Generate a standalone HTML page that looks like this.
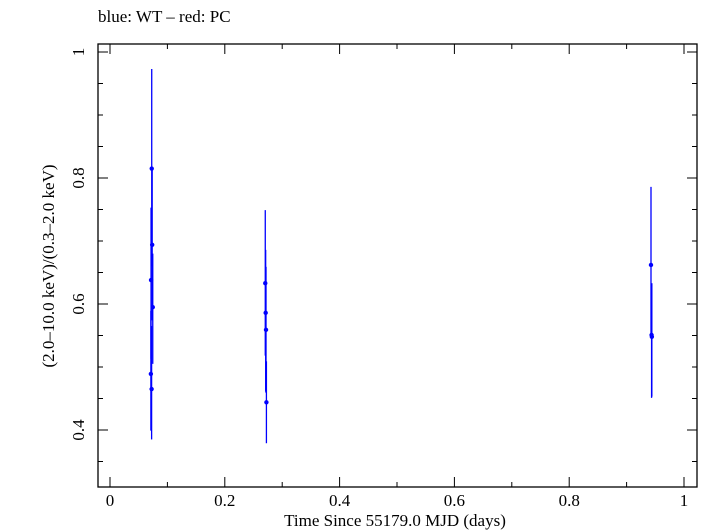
<!DOCTYPE html>
<html><head><meta charset="utf-8"><style>
body{margin:0;background:#fff;}
svg{display:block;font-family:"Liberation Serif",serif;}
</style></head><body>
<svg id="chart" width="705" height="532">
<text x="98" y="22" font-size="17">blue: WT – red: PC</text>
<rect x="98" y="44" width="599" height="443" fill="none" stroke="#000" stroke-width="1.3"/>
<g id="ticks"></g>
<g id="marks"></g>
<text x="395" y="526" font-size="17" text-anchor="middle">Time Since 55179.0 MJD (days)</text>
<text transform="translate(54,266) rotate(-90)" font-size="17" text-anchor="middle">(2.0–10.0 keV)/(0.3–2.0 keV)</text>
</svg>
<script>
const times = [0.0727,0.0735,0.0715,0.0745,0.0712,0.0725, 0.2705,0.2712,0.2718,0.2725, 0.9425,0.9435,0.9440];
const ratios = [0.815,0.694,0.638,0.595,0.489,0.465, 0.633,0.586,0.559,0.444, 0.662,0.551,0.548];
const errLow = [0.155,0.12,0.125,0.09,0.09,0.08, 0.115,0.125,0.10,0.065, 0.11,0.10,0.095];
const errHigh = [0.158,0.12,0.115,0.085,0.10,0.10, 0.116,0.10,0.10,0.065, 0.124,0.08,0.085];
const xTicks = [0,0.2,0.4,0.6,0.8,1];
const yTicks = [0.4,0.6,0.8,1];
const xTickLabels = ["0","0.2","0.4","0.6","0.8","1"];
const yTickLabels = ["0.4","0.6","0.8","1"];

const X = t => 110 + t*574;
const Y = v => 52 + (1-v)*630;
const NS = "http://www.w3.org/2000/svg";
const tg = document.getElementById('ticks');
const mg = document.getElementById('marks');
function mk(tag, attrs, parent){const e=document.createElementNS(NS,tag);for(const k in attrs)e.setAttribute(k,attrs[k]);parent.appendChild(e);return e;}

for(let i=0;i<=10;i++){
  const t=i/10, x=X(t), len = i%2===0?10:5;
  const a=mk('line',{x1:x,x2:x,y1:487,y2:487-len,stroke:'#000','stroke-width':1},tg);
  
  
  const b=mk('line',{x1:x,x2:x,y1:44,y2:44+len,stroke:'#000','stroke-width':1},tg);
  
  
}
xTicks.forEach((t,i)=>{
  const e=mk('text',{x:X(t),y:506,'font-size':17,'text-anchor':'middle'},tg);
  e.textContent=xTickLabels[i];
  
  
});
for(let i=0;i<=13;i++){
  const v=0.35+i*0.05; if(v>1.02)break; const y=Y(v);
  const major = Math.abs((v*10)%2)<0.01 || Math.abs((v*10)%2-2)<0.01;
  const len = major?10:5;
  const a=mk('line',{x1:98,x2:98+len,y1:y,y2:y,stroke:'#000','stroke-width':1},tg);
  
  
  const b=mk('line',{x1:697,x2:697-len,y1:y,y2:y,stroke:'#000','stroke-width':1},tg);
  
  
}
yTicks.forEach((v,i)=>{
  const e=mk('text',{transform:`translate(84,${Y(v)}) rotate(-90)`,'font-size':17,'text-anchor':'middle'},tg);
  e.textContent=yTickLabels[i];
  
  
});
times.forEach((t,i)=>{
  const x=X(t);
  const l=mk('line',{x1:x,x2:x,y1:Y(ratios[i]+errHigh[i]),y2:Y(ratios[i]-errLow[i]),stroke:'#0000ff','stroke-width':1.3},mg);
  
  
  const c=mk('circle',{cx:x,cy:Y(ratios[i]),r:2.2,fill:'#0000ff'},mg);
  
  
});
</script>
</body></html>
